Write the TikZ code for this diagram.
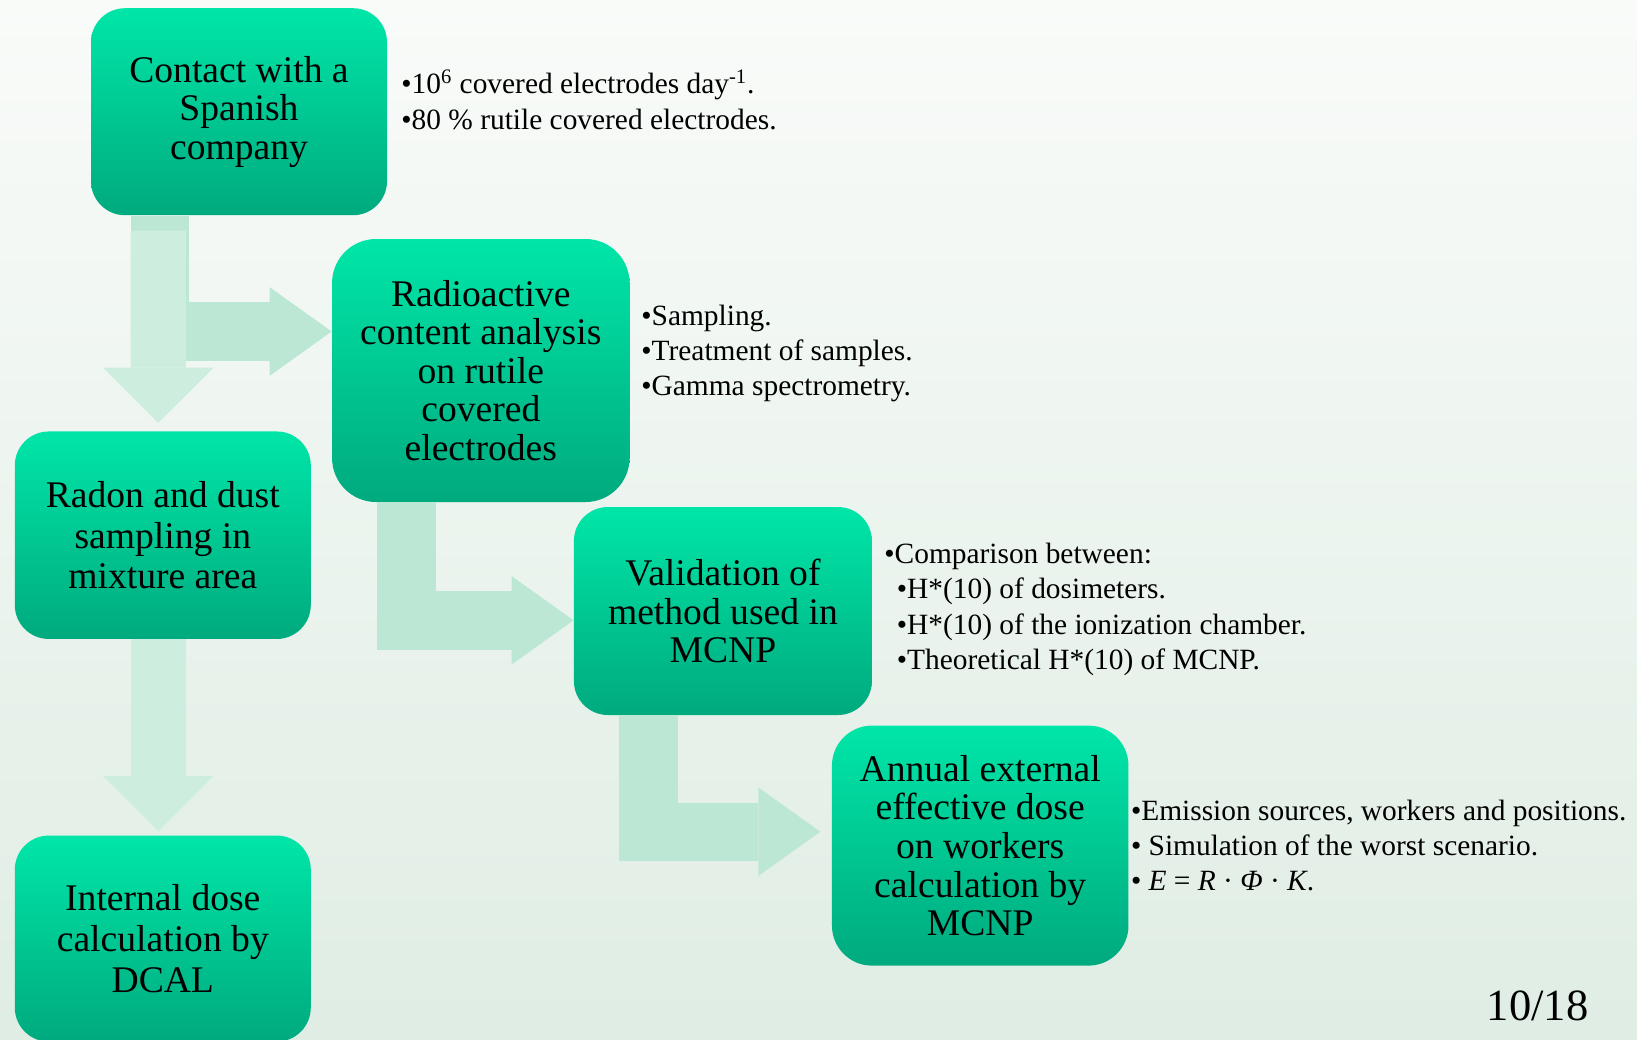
\documentclass[tikz,border=0pt]{standalone}
\usepackage{fontspec}
\setmainfont{Liberation Serif}
\usetikzlibrary{arrows.meta,calc}

\definecolor{bgtop}{RGB}{249,251,249}
\definecolor{bgbot}{RGB}{223,237,228}
\definecolor{boxtop}{RGB}{0,230,168}
\definecolor{boxbot}{RGB}{0,170,126}
\definecolor{arrowdark}{RGB}{188,231,213}
\definecolor{arrowlight}{RGB}{205,238,222}

\tikzset{
  stepbox/.style={rounded corners=17pt, top color=boxtop, bottom color=boxbot,
    minimum width=148pt, minimum height=103.5pt, inner sep=0pt, align=center,
    font=\fontsize{18.8pt}{19.3pt}\selectfont},
  widebox/.style={stepbox, font=\fontsize{18.8pt}{20.4pt}\selectfont},
  bentarrow/.style={draw=arrowdark, line width=29.2pt, line join=miter,
    -{Triangle[length=31pt 0, width=44.3pt 0, line width=0pt 0]}},
  downarrow/.style={draw=arrowlight, line width=27.65pt,
    -{Triangle[length=27.7pt 0, width=55.5pt 0, line width=0pt 0]}},
  notes/.style={anchor=west, align=left, inner sep=0pt,
    font=\fontsize{14.7pt}{17.65pt}\selectfont}
}

\begin{document}
\begin{tikzpicture}[x=0.5pt,y=-0.5pt]
  \useasboundingbox (0,0) rectangle (1637,1039);
  \fill[top color=bgtop, bottom color=bgbot] (0,0) rectangle (1637,1039);

  \node[stepbox] (contact) at (239,111.7) {Contact with a\\Spanish\\company};
  \node[stepbox, rounded corners=22pt, minimum width=148.75pt, minimum height=131.5pt] (radio) at (480.8,370.5)
    {Radioactive\\content analysis\\on rutile\\covered\\electrodes};
  \node[widebox, minimum height=103.75pt] (radon) at (162.8,535.2) {Radon and dust\\sampling in\\mixture area};
  \node[stepbox, minimum width=149pt, minimum height=104pt] (valid) at (722.9,611)
    {Validation of\\method used in\\MCNP};
  \node[stepbox, rounded corners=20pt, minimum width=148.25pt, minimum height=120pt] (annual) at (980.2,845.6)
    {Annual external\\effective dose\\on workers\\calculation by\\MCNP};
  \node[widebox, minimum height=103pt] (internal) at (162.8,938.6) {Internal dose\\calculation by\\DCAL};

  \foreach \from/\to/\dx/\ex/\ey in {contact/radio/-79.2/0/-39, radio/valid/-74.3/0/9.3, valid/annual/-74.6/-11.3/-13.9}
    \draw[bentarrow] ($(\from.south)+(\dx,0)$) |- ($(\to.west)+(\ex,\ey)$);
  \draw[downarrow] ($(contact.south)+(-80.7,15)$) -- ($(radon.north)+(-4.5,-8.15)$);
  \draw[downarrow] ($(radon.south)+(-4.5,0)$) -- ($(internal.north)+(-4.5,-4)$);

  \node[notes] (info1) at (401,99.6)
    {•10\textsuperscript{6} covered electrodes day\textsuperscript{-1}.\\•80 \% rutile covered electrodes.};
  \node[notes] (info2) at (641,353.6) {•Sampling.\\•Treatment of samples.\\•Gamma spectrometry.};
  \node[notes] (info3) at (884,609.3)
    {•Comparison between:\\\hspace*{6.25pt}•H*(10) of dosimeters.\\\hspace*{6.25pt}•H*(10) of the ionization chamber.\\\hspace*{6.25pt}•Theoretical H*(10) of MCNP.};
  \node[notes] (info4) at (1130.6,845.3)
    {•Emission sources, workers and positions.\\• Simulation of the worst scenario.\\• \textit{E} = \textit{R} · \textit{Φ} · \textit{K}.};

  \node[anchor=base west, inner sep=0pt, font=\fontsize{22.3pt}{26pt}\selectfont] (pagenum) at (1486.5,1020) {10/18};
\end{tikzpicture}
\end{document}
